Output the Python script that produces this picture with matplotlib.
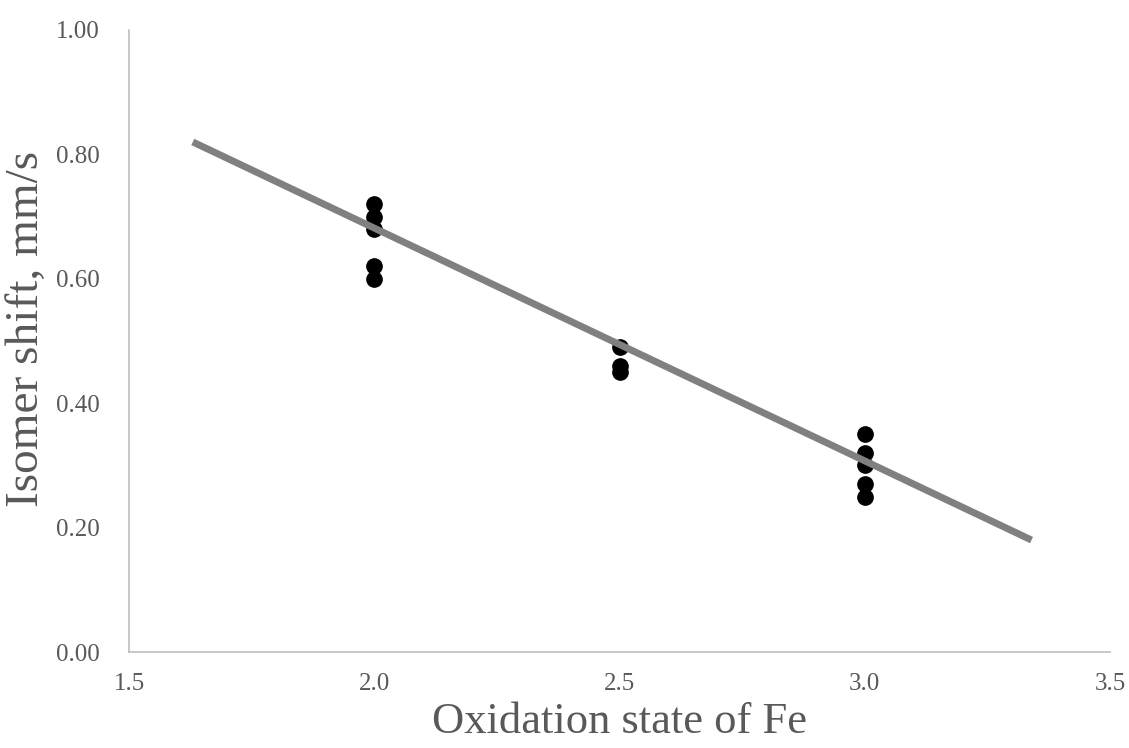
"""
Isomer shift vs oxidation state of Fe
Output: out.png
"""

import matplotlib.pyplot as plt

# Data points
ox_state = [2.0, 2.0, 2.0, 2.0, 2.0,
            2.5, 2.5, 2.5,
            3.0, 3.0, 3.0, 3.0, 3.0]
isomer_shift = [0.72, 0.70, 0.68, 0.62, 0.60,
                0.49, 0.46, 0.45,
                0.35, 0.32, 0.30, 0.27, 0.25]

# Linear trendline end points
trend_x = [1.63, 3.34]
trend_y = [0.82, 0.18]

x_ticks = [1.5, 2.0, 2.5, 3.0, 3.5]
y_ticks = [0.0, 0.2, 0.4, 0.6, 0.8, 1.0]

plt.rcParams["font.family"] = ["Liberation Serif", "DejaVu Serif"]

fig = plt.figure(figsize=(11.29, 7.48), dpi=100)
ax = fig.add_axes([0.1143, 0.1283, 0.8689, 0.8316])

# Trendline
ax.plot(trend_x, trend_y, color="#808080", linewidth=5, solid_capstyle="butt", zorder=3)

# Points
ax.plot(ox_state, isomer_shift, linestyle="none", marker="o", markersize=11,
        color="black", zorder=2)

ax.set_xlim(1.5, 3.5)
ax.set_ylim(0, 1.0)
ax.set_xticks(x_ticks)
ax.set_xticklabels([f"{v:.1f}" for v in x_ticks])
ax.set_yticks(y_ticks)
ax.set_yticklabels([f"{v:.2f}" for v in y_ticks])
ax.tick_params(length=0, labelsize=18, labelcolor="#595959")
ax.tick_params(axis="x", pad=15)
ax.tick_params(axis="y", pad=21)

for side in ["top", "right"]:
    ax.spines[side].set_visible(False)
for side in ["left", "bottom"]:
    ax.spines[side].set_color("#bfbfbf")
    ax.spines[side].set_linewidth(1.2)

ax.set_xlabel("Oxidation state of Fe", fontsize=32, color="#595959")
ax.set_ylabel("Isomer shift, mm/s", fontsize=34, color="#595959")
ax.xaxis.set_label_coords(0.5, -0.08)
ax.yaxis.set_label_coords(-0.083, 0.52)

fig.savefig("out.png", dpi=100)
